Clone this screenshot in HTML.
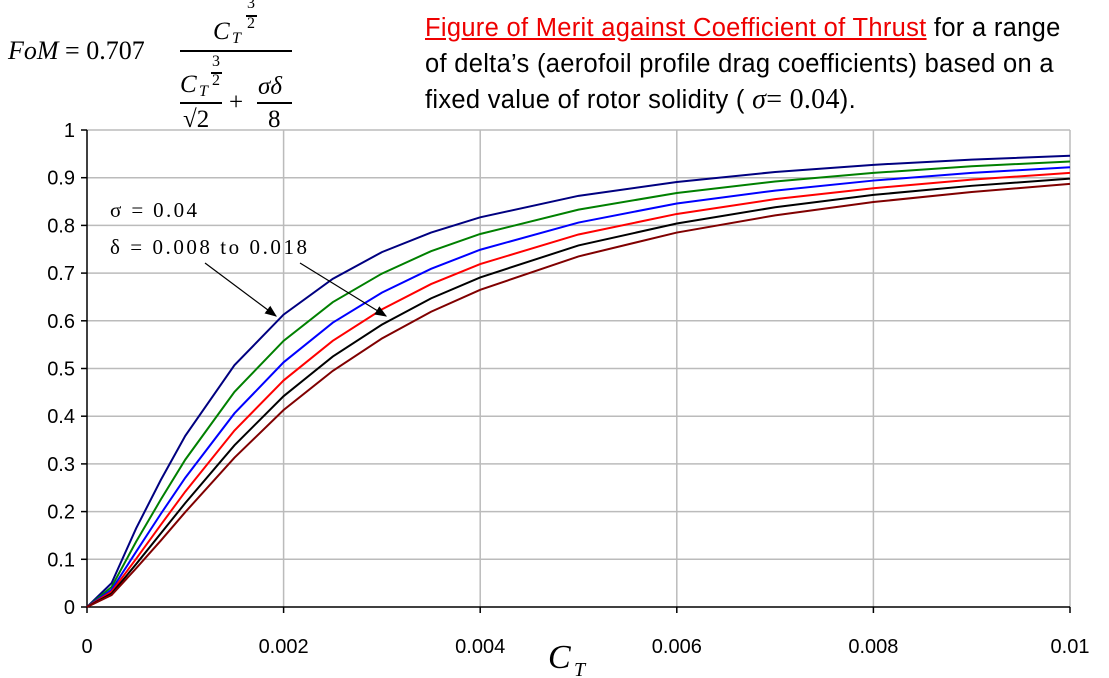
<!DOCTYPE html>
<html><head><meta charset="utf-8"><style>
body{margin:0;width:1109px;height:678px;background:#fff;overflow:hidden;position:relative;font-family:"Liberation Sans",sans-serif}
.m{position:absolute;font-family:"Liberation Serif","DejaVu Serif",serif;font-size:25px;line-height:25px;color:#000;white-space:nowrap}
.ln{position:absolute;height:2px;background:#000}
.t{position:absolute;font-size:25.5px;line-height:36px;color:#000;white-space:nowrap;letter-spacing:0.3px}
</style></head><body>
<div>
<div class="m" style="left:8px;top:38px;font-size:26px"><i>FoM</i> = 0.707</div>
<div class="ln" style="left:180px;top:50px;width:112px"></div>
<div class="m" style="left:213px;top:19px"><i>C</i></div>
<div class="m" style="left:232px;top:31px;font-size:16px;line-height:16px"><i>T</i></div>
<div class="m" style="left:247px;top:-4px;font-size:16px;line-height:15px">3</div>
<div class="ln" style="left:246px;top:15px;width:11px;height:1.5px"></div>
<div class="m" style="left:247px;top:16px;font-size:16px;line-height:15px">2</div>
<div class="m" style="left:180px;top:72px"><i>C</i></div>
<div class="m" style="left:199px;top:84px;font-size:16px;line-height:16px"><i>T</i></div>
<div class="m" style="left:212px;top:54px;font-size:16px;line-height:15px">3</div>
<div class="ln" style="left:211px;top:72px;width:11px;height:1.5px"></div>
<div class="m" style="left:212px;top:73px;font-size:16px;line-height:15px">2</div>
<div class="ln" style="left:180px;top:102px;width:42px"></div>
<div class="m" style="left:183px;top:107px">√2</div>
<div class="m" style="left:229px;top:90px">+</div>
<div class="m" style="left:258px;top:74px"><i>σδ</i></div>
<div class="ln" style="left:257px;top:102px;width:35px"></div>
<div class="m" style="left:268px;top:107px">8</div>
</div>
<div class="t" style="left:425px;top:10px"><span style="color:#e00;text-decoration:underline">Figure of Merit against Coefficient of Thrust</span> for a range<br>of delta’s (aerofoil profile drag coefficients) based on a<br>fixed value of rotor solidity ( <span style="font-family:'Liberation Serif',serif;font-size:28px"><i>σ</i>= 0.04</span>).</div>
<svg id="c" width="1109" height="678" style="position:absolute;left:0;top:0"></svg>
<script>
const ct=[0,0.00025,0.0005,0.00075,0.001,0.0015,0.002,0.0025,0.003,0.0035,0.004,0.005,0.006,0.007,0.008,0.009,0.01];
const d008=[0,.050,.165,.266,.359,.507,.613,.688,.744,.785,.817,.862,.891,.912,.927,.938,.946];
const d010=[0,.042,.137,.225,.309,.451,.558,.639,.699,.746,.782,.833,.868,.892,.910,.924,.934];
const d012=[0,.036,.116,.195,.271,.406,.513,.596,.659,.709,.749,.806,.846,.873,.894,.910,.922];
const d014=[0,.032,.101,.172,.242,.370,.475,.558,.624,.677,.719,.781,.824,.855,.878,.896,.910];
const d016=[0,.028,.090,.154,.218,.339,.442,.525,.592,.647,.691,.758,.804,.838,.864,.883,.898];
const d018=[0,.025,.081,.139,.199,.313,.413,.495,.563,.619,.665,.735,.785,.821,.849,.870,.887];
const xticks=["0","0.002","0.004","0.006","0.008","0.01"];
const yticks=["0","0.1","0.2","0.3","0.4","0.5","0.6","0.7","0.8","0.9","1"];
const series=[[d008,"#000080","delta-0.008"],[d010,"#008000","delta-0.010"],[d012,"#0000ff","delta-0.012"],[d014,"#ff0000","delta-0.014"],[d016,"#000000","delta-0.016"],[d018,"#800000","delta-0.018"]];
const X=v=>87+v/0.01*983, Y=v=>607-v*477;
const s=document.getElementById('c'),NS="http://www.w3.org/2000/svg";
function mk(t,a,txt){const e=document.createElementNS(NS,t);for(const k in a)e.setAttribute(k,a[k]);if(txt!==undefined)e.textContent=txt;s.appendChild(e);return e;}
yticks.forEach((l,i)=>{const v=i/10,y=Y(v);
 if(i>0){const g=mk('line',{x1:X(0),x2:X(0.01),y1:y,y2:y,stroke:'#bbb','stroke-width':1.5});}
 mk('line',{x1:X(0)-6,x2:X(0),y1:y,y2:y,stroke:'#000','stroke-width':1.5});
 const t=mk('text',{x:75,y:y+7,'text-anchor':'end','font-size':20,'font-family':'Liberation Sans'},l);});
xticks.forEach((l,i)=>{const x=X(i*0.002);
 if(i>0){const g=mk('line',{x1:x,x2:x,y1:Y(0),y2:Y(1),stroke:'#bbb','stroke-width':1.5});}
 mk('line',{x1:x,x2:x,y1:Y(0),y2:Y(0)+6,stroke:'#000','stroke-width':1.5});
 const t=mk('text',{x:x,y:653,'text-anchor':'middle','font-size':20,'font-family':'Liberation Sans'},l);});
mk('line',{x1:X(0),x2:X(0),y1:Y(0),y2:Y(1),stroke:'#000','stroke-width':1.5});
mk('line',{x1:X(0),x2:X(0.01),y1:Y(0),y2:Y(0),stroke:'#000','stroke-width':1.5});
series.forEach(([d,c,n])=>{const p=mk('polyline',{points:ct.map((v,i)=>X(v)+','+Y(d[i])).join(' '),fill:'none',stroke:c,'stroke-width':2});
 });
const xt=mk('text',{x:548,y:668,'font-size':34,'font-style':'italic','font-family':'Liberation Serif'},'C');
mk('text',{x:574,y:676,'font-size':20,'font-style':'italic','font-family':'Liberation Serif'},'T');
const a1=mk('text',{x:110,y:217,'font-size':21,'font-family':'Liberation Serif',textLength:87,lengthAdjust:'spacing'},'σ = 0.04');
const a2=mk('text',{x:110,y:254,'font-size':21,'font-family':'Liberation Serif',textLength:197,lengthAdjust:'spacing'},'δ = 0.008 to 0.018');
mk('defs',{}).innerHTML='<marker id="ar" markerWidth="10" markerHeight="8" refX="9" refY="4" orient="auto"><path d="M0,0L10,4L0,8z"/></marker>';
mk('line',{x1:205,y1:263,x2:276,y2:316,stroke:'#000','stroke-width':1.2,'marker-end':'url(#ar)'});
mk('line',{x1:300,y1:263,x2:386,y2:316,stroke:'#000','stroke-width':1.2,'marker-end':'url(#ar)'});
</script>
</body></html>
